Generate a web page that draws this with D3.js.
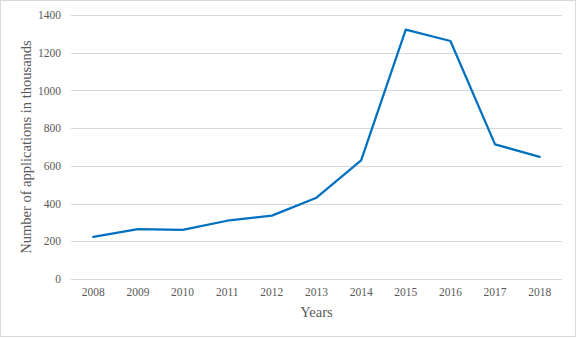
<!DOCTYPE html>
<html><head><meta charset="utf-8">
<script src="https://cdn.jsdelivr.net/npm/d3@7"></script>
<style>html,body{margin:0;padding:0;background:#fff;}svg{display:block;}</style>
</head><body>
<script>
const years = ["2008","2009","2010","2011","2012","2013","2014","2015","2016","2017","2018"];
const applications = [223, 265, 260, 309, 336, 431, 629, 1322, 1262, 714, 648];
const yTicks = [0, 200, 400, 600, 800, 1000, 1200, 1400];

const W = 577, H = 338;
const svg = d3.select("body").append("svg").attr("width", W).attr("height", H);
svg.append("rect").attr("x",0.5).attr("y",0.5).attr("width",W-2).attr("height",H-2)
  .attr("fill","#fff").attr("stroke","#d9d9d9").attr("stroke-width",1);

const mLeft = 71, mRight = 562, mTop = 15, mBottom = 279;
const x = d3.scaleBand().domain(years).range([mLeft, mRight]);
const y = d3.scaleLinear().domain([0, 1400]).range([mBottom, mTop]);

const font = "Liberation Serif, Times New Roman, serif";

svg.append("g").selectAll("line").data(yTicks).join("line")
  .attr("x1", mLeft).attr("x2", mRight)
  .attr("y1", d => Math.round(y(d)) + 0.5).attr("y2", d => Math.round(y(d)) + 0.5)
  .attr("stroke", "#d9d9d9").attr("stroke-width", 1);

const yAxis = d3.axisLeft(y).tickValues(yTicks).tickFormat(d3.format("d")).tickSize(0).tickPadding(10);
const gy = svg.append("g").attr("transform", `translate(${mLeft},0)`).call(yAxis)
  .attr("font-family", font).attr("font-size", 11.5);
gy.select(".domain").remove();
gy.selectAll("text").attr("fill", "#595959");

const xAxis = d3.axisBottom(x).tickSize(0).tickPadding(9);
const gx = svg.append("g").attr("transform", `translate(0,${mBottom})`).call(xAxis)
  .attr("font-family", font).attr("font-size", 11.5);
gx.select(".domain").remove();
gx.selectAll("text").attr("fill", "#595959");

const line = d3.line().x((d, i) => x(years[i]) + x.bandwidth() / 2).y(d => y(d));
svg.append("path").datum(applications).attr("d", line)
  .attr("fill", "none").attr("stroke", "#0070c0").attr("stroke-width", 2.25)
  .attr("stroke-linejoin", "round").attr("stroke-linecap", "round");

svg.append("text").attr("x", (mLeft + mRight) / 2).attr("y", 317)
  .attr("text-anchor", "middle").attr("font-family", font).attr("font-size", 14.5)
  .attr("fill", "#595959").text("Years");

svg.append("text").attr("transform", `translate(31,${(mTop + mBottom) / 2}) rotate(-90)`)
  .attr("text-anchor", "middle").attr("font-family", font).attr("font-size", 14.5)
  .attr("fill", "#595959").text("Number of applications in thousands");
</script>
</body></html>
